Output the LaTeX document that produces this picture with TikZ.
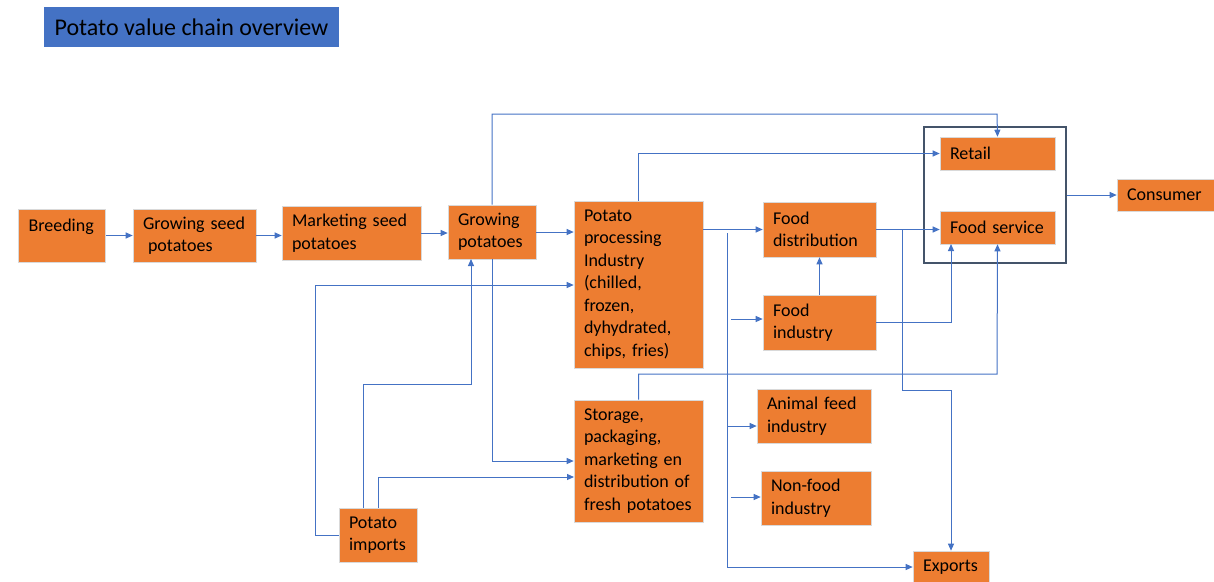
\documentclass[tikz,border=0pt]{standalone}
\usepackage{fontspec}
\setmainfont{Carlito}
\usetikzlibrary{arrows.meta}

\definecolor{boxorange}{HTML}{ED7D31}
\definecolor{titleblue}{HTML}{4472C4}
\definecolor{linkblue}{HTML}{4472C4}
\definecolor{framegray}{HTML}{44546A}

\begin{document}
\begin{tikzpicture}[x=1pt,y=-1pt,
  box/.style={fill=boxorange, draw=black!15, line width=0.6pt, inner xsep=10pt, inner ysep=0pt,
    align=left, font=\fontsize{18}{22.5}\selectfont},
  link/.style={draw=linkblue, line width=1pt, -{Triangle[length=7pt,width=6pt]}}]
  \useasboundingbox (0,0) rectangle (1214,581);

  % Title
  \node[fill=titleblue, minimum width=295pt, minimum height=40pt, inner xsep=9pt,
    font=\fontsize{24}{28}\selectfont] (title) at (191.5,27) {Potato value chain overview};

  % Chain of boxes
  \node[box, text width=67pt, minimum height=53pt, text height=12pt, text depth=21pt] (breed) at (62,235.5) {Breeding};
  \node[box, text width=103pt, minimum height=53pt] (seed) at (194.5,235.5) {Growing seed\\\hspace*{5pt}potatoes};
  \node[box, text width=119pt, minimum height=54pt] (mkt) at (351.5,233) {Marketing seed\\potatoes};
  \node[box, text width=68pt, minimum height=54pt] (grow) at (492,232) {Growing\\potatoes};
  \node[box, text width=109pt, minimum height=167pt] (proc) at (638.5,284.5) {Potato\\processing\\Industry\\(chilled,\\frozen,\\dyhydrated,\\chips, fries)};
  \node[box, text width=109pt, minimum height=122pt] (stor) at (638.5,461) {Storage,\\packaging,\\marketing en\\distribution of\\fresh potatoes};
  \node[box, text width=58pt, minimum height=54pt] (imp) at (378,535) {Potato\\imports};
  \node[box, text width=93pt, minimum height=55pt] (fd) at (819.5,229.5) {Food\\distribution};
  \node[box, text width=93pt, minimum height=55pt] (fi) at (819.5,322.5) {Food\\industry};
  \node[box, text width=94pt, minimum height=54pt] (af) at (814,416) {Animal feed\\industry};
  \node[box, text width=90pt, minimum height=54pt] (nf) at (816,498) {Non-food\\industry};
  \node[box, text width=56pt, minimum height=32pt] (ex) at (951,567) {Exports};
  \node[box, text width=95pt, minimum height=33pt] (retail) at (997.5,153.5) {Retail};
  \node[box, text width=95pt, minimum height=33pt] (fs) at (997.5,227.5) {Food service};
  \node[box, text width=78pt, minimum height=32pt] (con) at (1166,195) {Consumer};

  % Frame round retail and food service
  \node[draw=framegray, line width=1.8pt, minimum width=142pt, minimum height=136pt, inner sep=0pt] (frame) at (995,195) {};

  % Bend points
  \coordinate (ttop) at (997,114);
  \coordinate (timp) at (315,285);
  \coordinate (timp2) at (363,508);
  \coordinate (tbend) at (471,384);
  \coordinate (tgrow) at (471,259);
  \coordinate (tstor) at (574,477);
  \coordinate (vsplit) at (727,233);
  \coordinate (tafeed) at (727,426);
  \coordinate (tfi) at (731,319);
  \coordinate (tnf) at (731,497);
  \coordinate (tfdx) at (902,229.5);
  \coordinate (texk) at (951,390);
  \coordinate (tfsl) at (951,244);
  \coordinate (tstr) at (997,374);

  % Connectors
  \draw[link] (breed.east) -- (seed.west);
  \draw[link] (seed.east) -- (seed.east -| mkt.west);
  \draw[link] (mkt.east) -- (mkt.east -| grow.west);
  \draw[link] (grow.east) -- (grow.east -| proc.west);
  \draw[link] (grow.north) |- (ttop) -- (retail.north);
  \draw[link] (proc.north) |- (retail.west);
  \draw[link] (imp.west) -| (timp) -- (timp -| proc.west);
  \draw[link] (timp2) |- (tbend) -- (tgrow);
  \draw[link] (grow.south) |- (stor.west);
  \draw[link] (imp.north) |- (tstor);
  \draw[link] (proc.east |- fd.west) -- (fd.west);
  \draw[link] (vsplit) |- (ex.west);
  \draw[link] (tafeed) -- (tafeed -| af.west);
  \draw[link] (tfi) -- (tfi -| fi.west);
  \draw[link] (tnf) -- (tnf -| nf.west);
  \draw[link] (fi.north) -- (fd.south);
  \draw[link] (fd.east) -- (fd.east -| fs.west);
  \draw[link] (tfdx) |- (texk) -- (ex.north);
  \draw[link] (fi.east) -| (tfsl);
  \draw[link] (stor.north) |- (tstr) -- (fs.south);
  \draw[link] (frame.east) -- (con.west);
\end{tikzpicture}
\end{document}
